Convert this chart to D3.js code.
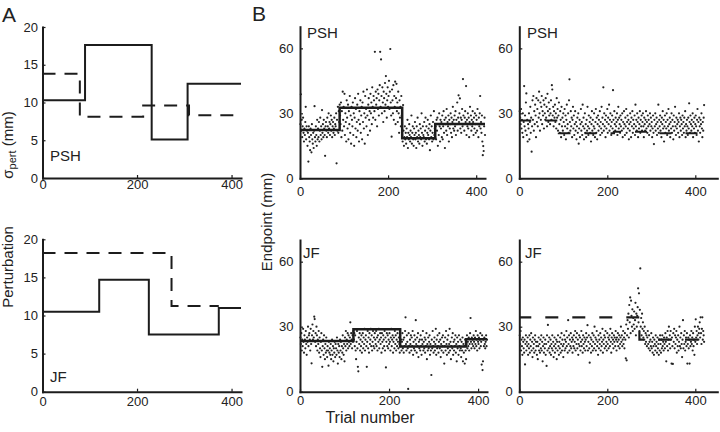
<!DOCTYPE html>
<html><head><meta charset="utf-8">
<script src="https://cdn.jsdelivr.net/npm/d3@7"></script>
<style>
body{margin:0;background:#fff;}
svg text{font-family:"Liberation Sans",Arial,Helvetica,sans-serif;fill:#222;}
</style></head>
<body><svg id="c" width="720" height="432"></svg>
<script>
// ---------- DATA ----------
// Panel A: perturbation sigma step functions (trial breakpoints, levels in mm)
const aPshSolidBreaks = [0, 90, 231, 307, 420];
const aPshSolidLevels = [10.3, 17.6, 5.1, 12.5];
const aPshDashBreaks  = [0, 79, 213, 310, 420];
const aPshDashLevels  = [13.8, 8.1, 9.6, 8.3];
const aJfSolidBreaks  = [0, 120, 225, 373, 420];
const aJfSolidLevels  = [10.5, 14.7, 7.5, 11.0];
const aJfDashBreaks   = [0, 273, 373];
const aJfDashLevels   = [18.2, 11.25];
// Panel B: mean endpoint step functions
const bPshLeftBreaks  = [0, 90, 232, 307, 420];
const bPshLeftLevels  = [22.3, 32.6, 18.5, 25.1];
const bPshRightBreaks = [0, 90, 215, 307, 420];
const bPshRightLevels = [26.7, 20.8, 21.5, 20.8];
const bJfLeftBreaks   = [0, 120, 225, 373, 420];
const bJfLeftLevels   = [23.4, 28.8, 20.8, 24.2];
const bJfRightBreaks  = [0, 273, 420];
const bJfRightLevels  = [34.3, 24.0];
// Panel B: endpoints per trial (trial = index + 1), mm
const pshLeftEndpoints = [
25,38.8,22,27,19,24,28,21,17,23, 20,26,33,18,24,22,15,21,7.7,24,
19,17,13,23,20,12,25,18,16,21, 14,22,33.3,19,17,24,20,15,27,18,
23,19,26,17,22,28,20,24,18,31.5, 21,25,19,27,23,20,10.4,24,26,22,
19,28,24,21,30,23,26,20,25,29, 22,27,19,24,26,21,23,28,20,25,
24,30,6.9,27,22,33,21,31,26,34, 29,25,35,19,31,22,40,27,33,24,
39,20,30,26,17,36,28,23,34,18, 31,25,38,21,29,16,33,27,24,35,
20,30,15,28,37,23,32,19,26,34, 22,39,27,17,31,25,36,21,29,33,
18,35,26,40,23,30,16,38,28,32, 24,41,29,20,34,37,27,31,22,39,
30,35,25,42,33,28,38,36,31,58.4, 27,40,34,37,24,41,32,39,29,36,
43,58.4,33,54.9,38,30,42,35,26,40, 37,31,44,34,47.2,39,28,36,42,33,
38,45,32,40,59.7,35,29,19.2,41,36, 30,43,27,38,33,44.6,25,37,43.6,31,
35,26,40,30,21,36,28,33,24,38,29, 20,17,33.8,22,15,19,24,18,21,
16,23,19,27,14,21,18,25,20,17, 22,19,29,16,21,24,18,15,23,20,
26,18,21,14,24,19,28,17,22,20, 16,25,19,23,18,30,21,15,24,20,
19,26,17,22,28,18,24,16,21,27, 20,23,18,25,13,22,29,19,24,17,
21,26,18,31,20,23,19, 24,18,27,
22,28,15,25,20,30,24,17,27,23, 26,19,29,18,24,31,21,27,14,25,
28,22,32,20,26,24,29,17,27,23, 25,30,21,28,19,26,33,23,27,22,
29,24,31,20,27,25,35,22,28,38.3, 26,30,36.9,23,28,21,27,32,24,45.8,
29,25,22,28,31,26,42.6,20,27,24, 30,23,28,19,26,33,25,29,22,27,
24,31,26,20,28,23,30,25,21,29, 27,22,32,25,19,28,24,30,38,23,
26,21,29,17,10.7,14.9,12.6,24,28,20];
const pshRightEndpoints = [
31,28,25,32,23,27,21,30,19,26, 42.6,24,29,22,35,39.2,20,27,17,25,
23,30,18,26,33,21,28,12.3,24,36, 27,38,22,31,25,34,29,19,37,26,
32,24,36,28,40,30,22,35,27,33, 38,25,31,29,36,23,34,30,27,37,
28,33,24,39,31,26,35,29,32,25, 30,36,27,43,41,29,33,24,31,28,
34,26,30,23,37,28,32,22,29,35, 25,21,31,27,19,33,24,28,22,30,
26,20,32,24,29,18,27,34,23,25, 30,21,36,45.7,26,22,31,24,28,19,
27,33,23,29,20,25,31,22,26,18, 24,28,21,30,16,23,27,19,25,32,
22,26,20,34,24,28,18,23,30,21, 25,19,27,22,33,24,20,29,23,26,
21,28,17,25,31,22,27,20,24,30, 23,19,26,32,21,28,18,25,29,22,
27,24,31,20,26,23,33,21,28,25, 42,22,30,24,27,19,29,23,26,32,
21,28,25,34,22,27,30,24,20,26, 29,23,40.7,27,21,31,25,22,28,24,
26,30,20,27,33,23,28,25,21,29, 24,27,22,30,19,26,23,31,25,20,
28,24,32,21,26,29,23,27,18,25, 22,30,26,19,28,24,31,21,27,23,
25,29,20,34,24,27,22,30,26,19, 28,23,25,31,21,27,24,29,22,26,
30,24,19,28,25,22,27,31,23,26, 21,29,24,27,20,25,30,22,28,24,
26,19,23,29,21,15.8,27,24,30,22, 25,28,20,26,23,34,21,27,24,29,
22,26,19,28,25,31,23,27,17,24, 29,21,26,23,30,20,27,24,32,22,
25,28,19,26,23,30,21,27,24,18, 29,22,26,33,24,20,28,23,25,27,
21,26,30,19,24,28,22,27,25,20, 29,23,26,21,28,24,31,19,25,22,
27,24,20,28,23,34.6,26,21,29,25, 22,27,24,30,19,26,23,28,21,25,
29,24,20,27,32,22,26,17,28,24, 21,27,25,30,23,19,26,22,28,33.8];
const jfLeftEndpoints = [
25,22,27,19,24,21,29,23,18,26, 24,20,28,22,17,25,23,30,21,26,
27,24,19,29,22,13.1,26,31,24,28, 25,34.6,33.5,23,27,21,30,26,19,24,
22,28,18,25,20,16,23,27,19,11.5, 21,24,17,26,20,15,22,18,25,19,
16,21,19,12,23,18,20,17,22,15, 19,24,17,21,14,20,18,23,16,22,
20,17,25,19,13,22,18,21,16,24, 19,23,15,21,18,26,20,17,22,14,
25,21,28,19,24,22,27,20,26,23, 21,25,32,22,27,24,20,26,23,28,
24,27,21,26,19,15,23,28,20,11.5, 9.4,25,22,27,19,24,21,26,18,23,
27,20,25,22,29,19,24,26,21,11.5, 23,28,20,25,18,27,22,24,29,21,
26,19,23,28,21,25,20,27,24,22, 28,21,25,19,26,23,29,20,24,27,
22,25,18,27,23,20,26,24,21,28, 19,25,11.2,23,27,21,26,20,24,22,
27,23,19,25,29,21,24,26,18,23, 25,20,28,22,26,19,24,21,27,23,
20,25,22,18,26,21,24,19,23,27, 20,24,18,25,21,28,34.3,22,19,26,
23,20,1.3,27,21,18,24,22,26,19, 25,21,28,17,23,20,26,19,24,33,
22,18,25,21,27,16,23,20,24,19, 26,21,17,24,22,28,19,23,20,25,
18,24,21,27,15,22,19,25,20,23, 26,17,22,19,7.7,24,20,28,21,18,
23,25,19,22,29,17,24,20,26,21, 18,23,27,20,24,16,22,19,25,21,
26,18,23,13,21,25,19,28,22,17, 24,20,26,18,22,29,19,23,15,21,
25,20,27,17,23,19,24,21,26,18, 22,14,25,20,23,17,26,21,19,24,
20,16,23,19,25,14,22,18,21,13, 24,19,15,22,26,20,23,21,25,19,
22,27,34,23,20,25,22,24,21,26, 23,20,25,22,28,21,24,19,26,23,
22,25,20,24,27,21,23,12.5,26,10, 14,24,21,25,22,20,23,26,21,24];
const jfRightEndpoints = [
26,22,28,19,24,21,17,25,23,20, 18,24,12.6,22,26,19,23,21,25,17,
22,20,26,18,24,21,27,19,23,16, 25,20,22,18,24,26,19,23,21,17,
23,15,21,25,19,22,18,24,20,26, 19,23,14,21,25,18,22,20,24,17,
22,11.9,26,19,30.8,23,20,25,18,21, 24,17,22,20,26,19,23,16,21,25,
18,22,20,24,15,23,19,26,21,17, 23,20,25,18,22,27,19,24,21,16,
22,26,19,24,20,23,28,21,25,18, 33,22,26,19,24,21,27,20,23,25,
18,24,21,26,20,23,28,19,25,22, 27,20,24,17,22,26,21,25,19,23,
28,21,24,18,26,22,20,25,23,19, 24,27,21,25,30.7,19,23,26,20,13.4,
22,25,18,24,21,27,19,23,26,20, 30,22,25,19,24,28,21,23,17,26,
20,24,22,27,19,25,21,23,29,18, 24,22,26,20,25,28,21,23,19,27,
22,25,20,24,26,21,29,23,18,25, 27,22,24,20,26,23,25,21,28,24,
19,25,23,27,21,24,26,20,22,25, 30,23,26,21,24,28,22,25,20,27,
24,15.4,31,14.5,26,33,29,36,25,40, 32,43.5,27,42,35,30,38,28,34,31,
37,29,33,41,26,36,30,35,39,47.7, 32,45.4,28,37.8,56.9,30,34,26,36,29,
32,25,28,24,30,22,27,23,26,21, 25,28,22,20,26,23,19,24,21,27,
20,23,18,25,21,17,24,22,19,26, 21,23,18,25,20,22,17,24,19,26,
22,18,24,20,26,21,23,19,25,22, 20,27,23,14,25,21,28,19,24,30,
22,26,20,28,24,13,25,21,12.8,27, 23,29,20,26,22,25,28,18,24,21,
26,19,23,30,21,25,20,27,22,16, 24,33,20,26,22,28,19,23,25,21,
27,13,22,25,20,24,13,26,21,23, 28,22,25,19,27,21,24,17,30,23,
33.4,25,28,22,26,30,24,27,29,32, 25,34.3,27,22,29,34.3,24,28,26,23];
// Axis tick values
const aYTicks = [0, 5, 10, 15, 20];
const bYTicks = [0, 30, 60];
const xTicks  = [0, 200, 400];

// ---------- DRAW ----------
const svg = d3.select("#c");
const INK = "#1c1c1c";

function stepPoints(breaks, levels){
  const pts = levels.map((v,i)=>[breaks[i], v]);
  pts.push([breaks[breaks.length-1], levels[levels.length-1]]);
  return pts;
}

function panel(o){
  const x = d3.scaleLinear().domain(o.xd).range(o.xr);
  const y = d3.scaleLinear().domain(o.yd).range(o.yr);
  const g = svg.append("g");
  const xa = d3.axisBottom(x).tickValues(xTicks).tickSizeInner(-3).tickSizeOuter(0).tickPadding(o.xpad);
  const ya = d3.axisLeft(y).tickValues(o.yticks).tickSizeInner(-3).tickSizeOuter(0).tickPadding(o.ypad);
  const gx = g.append("g").attr("transform",`translate(0,${o.yr[0]})`).call(xa);
  const gy = g.append("g").attr("transform",`translate(${o.xr[0]},0)`).call(ya);
  [gx,gy].forEach(a=>{
    a.select(".domain").attr("stroke",INK).attr("stroke-width",2).attr("stroke-linecap","square");
    a.selectAll(".tick line").attr("stroke",INK).attr("stroke-width",1.2);
    a.selectAll(".tick text").attr("font-size",13).attr("fill","#222")
      .attr("font-family","Liberation Sans, Arial, sans-serif");
  });
  if(o.dots){
    g.append("g").selectAll("circle").data(o.dots).join("circle")
      .attr("cx",(d,i)=>x(i+1)).attr("cy",d=>y(d)).attr("r",1.1).attr("fill","#222");
  }
  const line = d3.line().x(d=>x(d[0])).y(d=>y(d[1])).curve(d3.curveStepAfter);
  (o.lines||[]).forEach(L=>{
    g.append("path").attr("d",line(stepPoints(L.b,L.l))).attr("fill","none")
      .attr("stroke",INK).attr("stroke-width",L.w||2)
      .attr("stroke-dasharray",L.dash||null).attr("stroke-dashoffset",L.off||0);
  });
  if(o.label){
    g.append("text").attr("x",o.label[1]).attr("y",o.label[2]).attr("font-size",15).text(o.label[0]);
  }
  return {x,y};
}

// Panel A
panel({xd:[0,420], xr:[42.5,241], yd:[0,20], yr:[178,27], yticks:aYTicks, xpad:2, ypad:4.5,
  lines:[{b:aPshSolidBreaks,l:aPshSolidLevels,w:2},{b:aPshDashBreaks,l:aPshDashLevels,w:2,dash:"13,9"}],
  label:["PSH",50,161]});
panel({xd:[0,420], xr:[42.5,241], yd:[0,20], yr:[391.7,239.3], yticks:aYTicks, xpad:5, ypad:4.5,
  lines:[{b:aJfSolidBreaks,l:aJfSolidLevels,w:2},{b:aJfDashBreaks,l:aJfDashLevels,w:2,dash:"13,9"}],
  label:["JF",50,382]});
// Panel B
panel({xd:[0,420], xr:[300,485], yd:[0,70], yr:[178.3,26.7], yticks:bYTicks, xpad:8, ypad:6.5,
  dots:pshLeftEndpoints, lines:[{b:bPshLeftBreaks,l:bPshLeftLevels,w:2.5}], label:["PSH",307,38]});
panel({xd:[0,450], xr:[519.3,717.3], yd:[0,70], yr:[178.3,26.7], yticks:bYTicks, xpad:8, ypad:6.5,
  dots:pshRightEndpoints, lines:[{b:bPshRightBreaks,l:bPshRightLevels,w:2.2,dash:"12,14"}], label:["PSH",527,38]});
panel({xd:[0,420], xr:[300,487], yd:[0,70], yr:[391.7,240], yticks:bYTicks, xpad:4, ypad:6.5,
  dots:jfLeftEndpoints, lines:[{b:bJfLeftBreaks,l:bJfLeftLevels,w:2.5}], label:["JF",303,258]});
panel({xd:[0,450], xr:[519.3,717.3], yd:[0,70], yr:[391.7,240], yticks:bYTicks, xpad:4, ypad:6.5,
  dots:jfRightEndpoints, lines:[{b:bJfRightBreaks,l:bJfRightLevels,w:2.2,dash:"13,14",off:1}], label:["JF",525,258]});

// Panel letters
svg.append("text").attr("x",2).attr("y",22).attr("font-size",21).text("A");
svg.append("text").attr("x",252).attr("y",21).attr("font-size",21).text("B");

// Axis titles
const t1 = svg.append("text").attr("transform","translate(13,145) rotate(-90)")
  .attr("text-anchor","middle").attr("font-size",15);
t1.append("tspan").text("σ");
t1.append("tspan").attr("font-size",11).attr("dy",3).text("pert");
t1.append("tspan").attr("dy",-3).text(" (mm)");
svg.append("text").attr("transform","translate(12.5,267) rotate(-90)")
  .attr("text-anchor","middle").attr("font-size",15).text("Perturbation");
svg.append("text").attr("transform","translate(272,222) rotate(-90)")
  .attr("text-anchor","middle").attr("font-size",15).text("Endpoint (mm)");
svg.append("text").attr("x",370).attr("y",423).attr("text-anchor","middle")
  .attr("font-size",16).text("Trial number");
</script></body></html>
